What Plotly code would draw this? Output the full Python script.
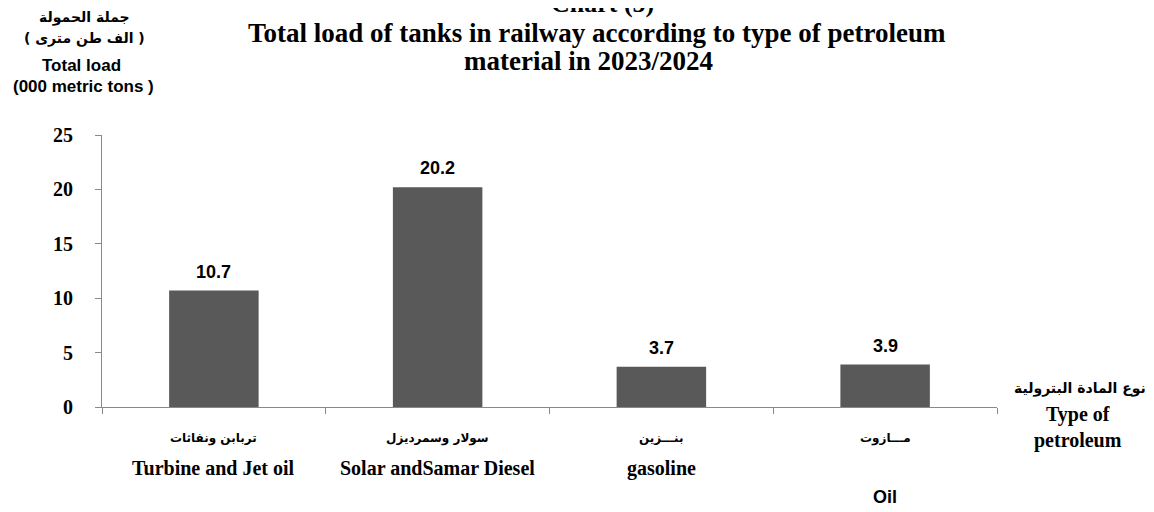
import plotly.graph_objects as go

categories = ["Turbine and Jet oil", "Solar andSamar Diesel", "gasoline", "Oil"]
arabic_labels = ["تربابن ونفاثات", "سولار وسمرديزل", "بنـــزين", "مـــازوت"]
english_labels = ["Turbine and Jet oil", "Solar andSamar Diesel", "gasoline", ""]
extra_labels = ["", "", "", "Oil"]
values = [10.7, 20.2, 3.7, 3.9]
y_ticks = [0, 5, 10, 15, 20, 25]

OFF = 8  # page body margin
W, H = 1154 - OFF, 512 - OFF
# plot area in page pixels
PL, PR, PT, PB = 102, 997, 135, 407
L, T = PL - OFF, PT - OFF
R = W - (PR - OFF)
B = H - (PB - OFF)
PH = PB - PT
PW = PR - PL

def py(px):
    return (PB - px) / PH

def pxx(px):
    return (px - PL) / PW

fig = go.Figure()
fig.add_trace(go.Bar(
    x=categories, y=values, width=0.4,
    marker=dict(color="#595959", line=dict(width=0)),
    hoverinfo="skip",
))

ann = []
def add(text, x, y, size, family, xref="paper", yref="paper", yanchor="middle", yshift=0):
    ann.append(dict(text=text, x=x, y=y, xref=xref, yref=yref,
                    showarrow=False, xanchor="center", yanchor=yanchor, yshift=yshift,
                    font=dict(size=size, family=family, color="#000000", weight="bold")))

# data labels
for c, v in zip(categories, values):
    add(f"{v:.1f}", c, v, 18, "Liberation Sans", xref="x", yref="y", yanchor="bottom", yshift=7)

# title
add("Chart (5)", pxx(602), py(3), 26, "Liberation Serif")
add("Total load of tanks in railway according to type of petroleum", pxx(597), py(33), 27, "Liberation Serif")
add("material in 2023/2024", pxx(588), py(61), 27, "Liberation Serif")
# y title
add("جملة الحمولة", pxx(84), py(17), 14, "DejaVu Sans")
add("( الف طن مترى )", pxx(84), py(39), 14, "DejaVu Sans")
add("Total load", pxx(81), py(65), 17, "Liberation Sans")
add("(000 metric tons )", pxx(83), py(87), 17, "Liberation Sans")
# x title
add("نوع المادة البترولية", pxx(1080), py(388), 14, "DejaVu Sans")
add("Type of", pxx(1078), py(414), 20, "Liberation Serif")
add("petroleum", pxx(1078), py(440), 20, "Liberation Serif")
# category labels
for c, a, e, o in zip(categories, arabic_labels, english_labels, extra_labels):
    add(a, c, py(438), 12, "DejaVu Sans", xref="x")
    if e:
        add(e, c, py(468), 20, "Liberation Serif", xref="x")
    if o:
        add(o, c, py(497), 18, "Liberation Sans", xref="x")

fig.update_layout(
    width=W, height=H,
    margin=dict(l=L, r=R, t=T, b=B, autoexpand=False),
    paper_bgcolor="white", plot_bgcolor="white",
    showlegend=False, annotations=ann,
    xaxis=dict(range=[-0.5, 3.5], showticklabels=False, tickson="boundaries",
               ticks="outside", ticklen=6, tickcolor="#898989",
               showline=True, linecolor="#898989", linewidth=1, showgrid=False),
    yaxis=dict(range=[0, 25], tickvals=y_ticks, ticks="outside", ticklen=6,
               tickcolor="#898989", showline=True, linecolor="#898989", linewidth=1,
               showgrid=False, zeroline=False, ticklabelstandoff=18,
               tickfont=dict(family="Liberation Serif", size=20, color="#000000", weight="bold")),
)
fig.write_html("out.html")
